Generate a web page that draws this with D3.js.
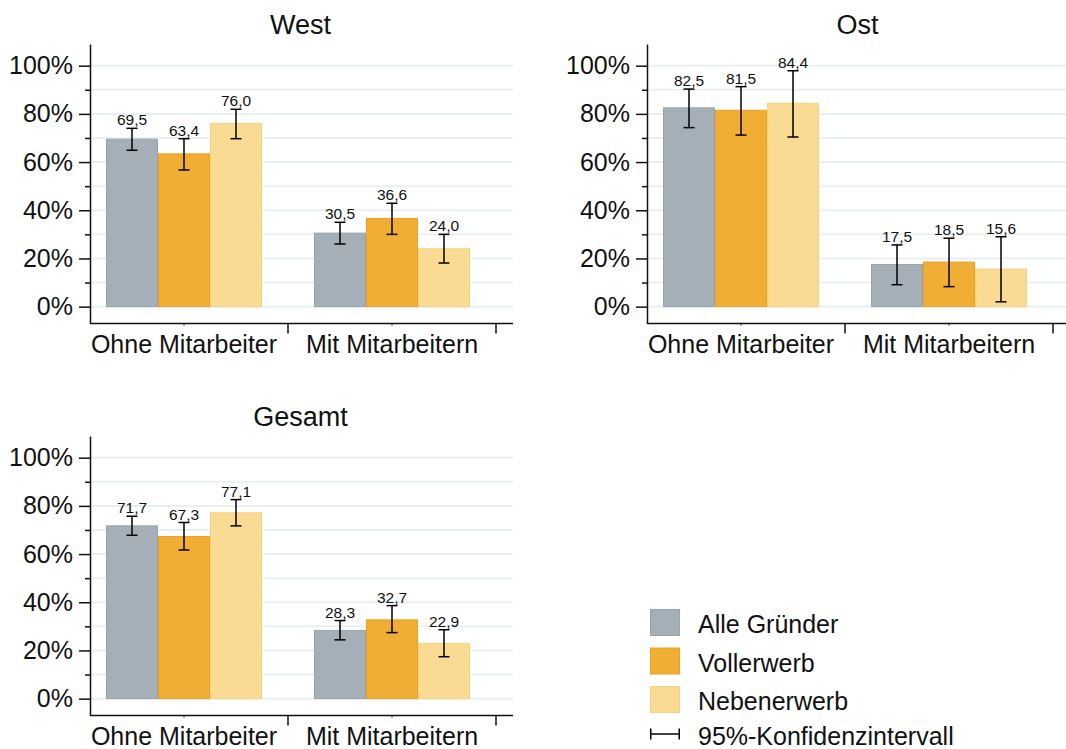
<!DOCTYPE html>
<html>
<head>
<meta charset="utf-8">
<script src="https://cdn.jsdelivr.net/npm/d3@7"></script>
<style>
  html, body { margin: 0; padding: 0; background: #fff; }
  svg { display: block; font-family: "Liberation Sans", Arial, sans-serif; }
</style>
</head>
<body>
<svg id="chart" width="1066" height="749"></svg>
<script>
// Anteile der Gründer nach Beschäftigung von Mitarbeitern (in %)
const categories = ["Ohne Mitarbeiter", "Mit Mitarbeitern"];
const series = ["Alle Gründer", "Vollerwerb", "Nebenerwerb"];
const yTicks = [0, 20, 40, 60, 80, 100];
const yMinorTicks = [10, 30, 50, 70, 90];

// West: [Ohne, Mit] x [Alle, Voll, Neben]
const westValues = [[69.5, 63.4, 76.0], [30.5, 36.6, 24.0]];
const westLower  = [[64.9, 56.7, 69.7], [26.0, 30.0, 18.1]];
const westUpper  = [[74.0, 69.7, 81.9], [35.0, 42.9, 30.0]];

// Ost
const ostValues = [[82.5, 81.5, 84.4], [17.5, 18.5, 15.6]];
const ostLower  = [[74.3, 71.2, 70.4], [9.1, 8.3, 2.0]];
const ostUpper  = [[90.3, 91.3, 97.9], [25.6, 28.4, 29.0]];

// Gesamt
const gesamtValues = [[71.7, 67.3, 77.1], [28.3, 32.7, 22.9]];
const gesamtLower  = [[67.8, 61.7, 71.7], [24.4, 27.4, 17.4]];
const gesamtUpper  = [[75.7, 73.1, 82.6], [32.4, 38.6, 28.6]];

const fills   = ["#a4afb8", "#f0ae35", "#f9db93"];
const strokes = ["#97a3ad", "#eaa125", "#f5d27e"];
const gridColor = "#e9f0f3";
const ink = "#111";

const svg = d3.select("#chart");
const fmt = v => d3.format(".1f")(v).replace(".", ",");

const panels = [
  { title: "West",   dx: 0,   dy: 0,   values: westValues,   lower: westLower,   upper: westUpper },
  { title: "Ost",    dx: 557, dy: 0,   values: ostValues,    lower: ostLower,    upper: ostUpper },
  { title: "Gesamt", dx: 0,   dy: 392, values: gesamtValues, lower: gesamtLower, upper: gesamtUpper }
];

// shared scales in panel coordinates
const axisX = 90, plotRight = 513;
const y = d3.scaleLinear().domain([-7, 109]).range([323.5, 44]);
const x0 = d3.scaleBand().domain(categories).range([80, 496]).padding(0);
const x1 = d3.scaleBand().domain(series).range([0, x0.bandwidth()]).paddingInner(0).paddingOuter(0.5);

panels.forEach(p => {
  const g = svg.append("g").attr("transform", `translate(${p.dx},${p.dy})`);

  // title
  g.append("text")
    .attr("x", (axisX + plotRight) / 2 - 1)
    .attr("y", 34)
    .attr("text-anchor", "middle")
    .attr("font-size", 27)
    .attr("fill", ink)
    .text(p.title);

  // gridlines every 10%
  g.append("g").selectAll("line")
    .data(d3.range(0, 101, 10))
    .join("line")
    .attr("x1", axisX + 1).attr("x2", plotRight)
    .attr("y1", d => y(d)).attr("y2", d => y(d))
    .attr("stroke", gridColor).attr("stroke-width", 2);

  // bars
  const groups = g.append("g").selectAll("g")
    .data(categories.map((c, i) => ({ c, i })))
    .join("g")
    .attr("transform", d => `translate(${x0(d.c)},0)`);

  groups.selectAll("rect")
    .data(d => series.map((s, j) => ({ s, j, v: p.values[d.i][j] })))
    .join("rect")
    .attr("x", d => x1(d.s) + 0.5)
    .attr("width", x1.bandwidth() - 1)
    .attr("y", d => y(d.v))
    .attr("height", d => y(0) - y(d.v))
    .attr("fill", d => fills[d.j])
    .attr("stroke", d => strokes[d.j])
    .attr("stroke-width", 1);

  // confidence intervals
  const ci = groups.selectAll("g.ci")
    .data(d => series.map((s, j) => ({
      s, j, v: p.values[d.i][j], lo: p.lower[d.i][j], hi: p.upper[d.i][j]
    })))
    .join("g").attr("class", "ci")
    .attr("transform", d => `translate(${x1(d.s) + x1.bandwidth() / 2},0)`);

  ci.append("line")
    .attr("y1", d => y(d.lo)).attr("y2", d => y(d.hi))
    .attr("stroke", "#000").attr("stroke-width", 1.5);
  ci.append("line")
    .attr("x1", -5.5).attr("x2", 5.5)
    .attr("y1", d => y(d.hi)).attr("y2", d => y(d.hi))
    .attr("stroke", "#000").attr("stroke-width", 1.5);
  ci.append("line")
    .attr("x1", -5.5).attr("x2", 5.5)
    .attr("y1", d => y(d.lo)).attr("y2", d => y(d.lo))
    .attr("stroke", "#000").attr("stroke-width", 1.5);

  // value labels
  ci.append("text")
    .attr("y", d => y(d.hi) - 3)
    .attr("text-anchor", "middle")
    .attr("font-size", 15.5)
    .attr("fill", ink)
    .text(d => fmt(d.v));

  // y axis: major ticks with labels
  const yAxis = g.append("g")
    .attr("transform", `translate(${axisX},0)`)
    .call(d3.axisLeft(y).tickValues(yTicks).tickSize(11).tickSizeOuter(0)
      .tickPadding(6).tickFormat(d => d + "%"));
  yAxis.select(".domain").attr("stroke", ink).attr("stroke-width", 1.5);
  yAxis.selectAll(".tick line").attr("stroke", ink).attr("stroke-width", 1.5);
  yAxis.selectAll(".tick text")
    .attr("font-size", 25).attr("fill", ink)
    .attr("font-family", "Liberation Sans, Arial, sans-serif");

  // y axis: minor ticks
  const yMinor = g.append("g")
    .attr("transform", `translate(${axisX},0)`)
    .call(d3.axisLeft(y).tickValues(yMinorTicks).tickSize(5).tickFormat(""));
  yMinor.select(".domain").remove();
  yMinor.selectAll(".tick line").attr("stroke", ink).attr("stroke-width", 1.5);

  // x axis line
  g.append("line")
    .attr("x1", axisX).attr("x2", plotRight)
    .attr("y1", y.range()[0]).attr("y2", y.range()[0])
    .attr("stroke", ink).attr("stroke-width", 1.5);

  // x axis: category labels with small centre ticks
  const xAxis = g.append("g")
    .attr("transform", `translate(0,${y.range()[0]})`)
    .call(d3.axisBottom(x0).tickSize(2).tickPadding(10));
  xAxis.select(".domain").remove();
  xAxis.selectAll(".tick line").attr("stroke", ink).attr("stroke-width", 1);
  xAxis.selectAll(".tick text")
    .attr("font-size", 25).attr("fill", ink)
    .attr("font-family", "Liberation Sans, Arial, sans-serif");

  // x axis: separators at band ends
  g.append("g").selectAll("line")
    .data(categories)
    .join("line")
    .attr("x1", d => x0(d) + x0.bandwidth()).attr("x2", d => x0(d) + x0.bandwidth())
    .attr("y1", y.range()[0]).attr("y2", y.range()[0] + 10)
    .attr("stroke", ink).attr("stroke-width", 1.5);
});

// legend
const legend = svg.append("g").attr("transform", "translate(650,609)");
const legendRows = legend.selectAll("g.row")
  .data(series)
  .join("g").attr("class", "row")
  .attr("transform", (d, i) => `translate(0,${i * 38.5})`);
legendRows.append("rect")
  .attr("x", 0.5).attr("y", 0.5)
  .attr("width", 29).attr("height", 26)
  .attr("fill", (d, i) => fills[i])
  .attr("stroke", (d, i) => strokes[i]);
legendRows.append("text")
  .attr("x", 48).attr("y", 24)
  .attr("font-size", 25).attr("fill", ink)
  .text(d => d);

const ciRow = legend.append("g").attr("transform", "translate(0,125)");
ciRow.append("line").attr("x1", 0).attr("x2", 30).attr("y1", 0).attr("y2", 0)
  .attr("stroke", "#000").attr("stroke-width", 1.5);
ciRow.append("line").attr("x1", 0.75).attr("x2", 0.75).attr("y1", -5.5).attr("y2", 5.5)
  .attr("stroke", "#000").attr("stroke-width", 1.5);
ciRow.append("line").attr("x1", 29.25).attr("x2", 29.25).attr("y1", -5.5).attr("y2", 5.5)
  .attr("stroke", "#000").attr("stroke-width", 1.5);
ciRow.append("text")
  .attr("x", 48).attr("y", 11)
  .attr("font-size", 25).attr("fill", ink)
  .text("95%-Konfidenzintervall");
</script>
</body>
</html>
